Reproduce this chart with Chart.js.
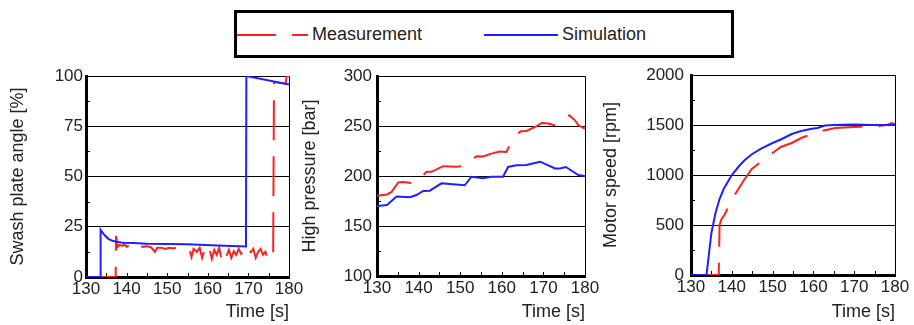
<!DOCTYPE html>
<html>
<head>
<meta charset="utf-8">
<title>Swash plate / pressure / speed</title>
<script src="https://cdn.jsdelivr.net/npm/chart.js@4.4.1/dist/chart.umd.min.js"></script>
<style>
  body { margin: 0; background: #fff; width: 914px; height: 325px; position: relative; overflow: hidden;
         font-family: "Liberation Sans", Arial, sans-serif; }
  canvas.panel { position: absolute; left: 0; top: 0; }
  #legend { position: absolute; left: 234px; top: 10px; width: 494px; height: 42px; border: 3px solid #000; background: #fff; }
  .sample { position: absolute; height: 2px; }
  .label { position: absolute; font-size: 18px; color: #222; line-height: 20px; }
</style>
</head>
<body>
<div id="legend"></div>
<div class="sample" style="left:237px; top:34px; width:39px; background:#ff2020;"></div>
<div class="sample" style="left:292px; top:34px; width:16px; background:#ff2020;"></div>
<div class="label" style="left:312px; top:24px;">Measurement</div>
<div class="sample" style="left:484px; top:34px; width:74px; background:#2020ff;"></div>
<div class="label" style="left:562px; top:24px;">Simulation</div>

<canvas class="panel" id="swashChart" width="914" height="325"></canvas>
<canvas class="panel" id="pressureChart" width="914" height="325"></canvas>
<canvas class="panel" id="speedChart" width="914" height="325"></canvas>

<script>
const FONT = '"Liberation Sans", Arial, sans-serif';
const RED = '#ff2020';
const BLUE = '#2020ff';

// shared time axis
const timeTicks = [130, 140, 150, 160, 170, 180];
const timeMinor = [130, 135, 140, 145, 150, 155, 160, 165, 170, 175, 180];

// Swash plate angle [%]
const swashTicks = [0, 25, 50, 75, 100];
const swashMinor = [12.5, 37.5, 62.5, 87.5];
const swashSimTime = [130, 133.5, 133.6, 134.5, 135.5, 136.5, 137.6, 139, 141.7, 145, 150, 154.9, 158, 162.3, 166, 169.4, 169.5, 180];
const swashSimValue = [0, 0, 23.5, 21, 19, 18, 17.5, 17.1, 16.9, 16.6, 16.4, 16.3, 16, 15.7, 15.4, 15.2, 100, 95.8];
const swashMeasTime = [130, 137.3, 137.4, 137.8, 138.3, 139, 139.5, 140, 140.7, 141.3, 142, 142.5, 143, 144, 145, 146, 147, 147.5,
    148.5, 149.5, 150.5, 151.5, 152.5, 153.5, 154.5, 155.5, 156, 156.5, 157.3, 158, 158.6, 159.2, 159.8, 160.4, 161, 161.6,
    162.2, 162.8, 163.4, 164, 164.6, 165.2, 165.8, 166.4, 167, 167.6, 168.2, 168.8, 169.4, 170, 170.6, 171.2, 171.8, 172.4,
    173, 173.6, 174.2, 174.8, 175.4, 176.1, 176.3, 179.2, 179.4, 180];
const swashMeasValue = [0, 0, 20.5, 15, 16, 15.5, 16.2, 15, 16, 15.2, 14, 15.5, 15.8, 15, 15.3, 14.8, 12.5, 14.5,
    14.6, 14, 14.5, 14.2, 14.8, 14, 14.5, 13.5, 10, 14, 12.5, 14.5, 9.5, 13.8, 11.5, 14, 9, 13.5,
    11, 14.5, 8.5, 12.5, 10.5, 13.5, 9.5, 12.8, 11, 14, 11.5, 13, 10.5, 13.5, 12.3, 14, 9.5, 12.5,
    14, 11, 12.5, 9, 12, 11, 97, 96.2, 100, 100];

// High pressure [bar]
const pressTicks = [100, 150, 200, 250, 300];
const pressMinor = [125, 175, 225, 275];
const pressSimTime = [130, 132.4, 134.7, 137.9, 139.5, 141.1, 142.7, 145.5, 147.5, 151.1, 152.7, 155.5, 157.5, 160.3, 161.5,
    163.5, 165.9, 169.2, 172.8, 174, 175.4, 178.4, 180];
const pressSimValue = [170, 171, 179.4, 178.7, 181, 185, 185.3, 192.7, 192, 190.7, 199.3, 197.7, 199.3, 199.3, 209,
    210.8, 211, 214.3, 207.5, 207.5, 209, 201, 200];
const pressMeasTime = [130, 132.4, 133.5, 135.1, 136.3, 139, 140.5, 141.9, 143.1, 145.9, 149.1, 151.5, 152.7, 153.9, 155.5,
    157.5, 159.5, 161.1, 162.3, 163.4, 164.5, 165.9, 168.4, 169.6, 171.2, 172.5, 174, 175.2, 176.2, 177.6, 178.4, 180];
const pressMeasValue = [180.2, 181.5, 184, 193.5, 194, 192.5, 198, 204.2, 204.2, 209.8, 209.2, 210.5, 215, 219.8, 219.5,
    222.4, 224.5, 224, 234, 240, 244.8, 245, 249.8, 253, 252.4, 250.7, 253, 257, 260.7, 255.7, 250.7, 247.4];

// Motor speed [rpm]
const speedTicks = [0, 500, 1000, 1500, 2000];
const speedMinor = [250, 750, 1250, 1750];
const speedSimTime = [130, 133.8, 135, 136, 137, 138, 140, 142, 143.2, 145, 147.3, 150, 152, 154.7, 157, 159.6, 161, 162.8,
    165, 169.4, 175, 180];
const speedSimValue = [0, 0, 420, 620, 760, 860, 1000, 1100, 1150, 1210, 1267, 1320, 1355, 1410, 1440, 1462, 1470, 1495,
    1500, 1505, 1500, 1500];
const speedMeasTime = [130, 136.8, 137, 137.5, 138.2, 139.6, 141, 143, 144.9, 147.7, 150, 152, 154.7, 157, 160.4, 162,
    165.3, 170, 175.9, 178, 179.2, 180];
const speedMeasValue = [0, 0, 500, 560, 600, 720, 820, 950, 1060, 1150, 1220, 1280, 1320, 1370, 1420, 1440,
    1470, 1480, 1490, 1500, 1520, 1510];

function toPoints(xs, ys) {
    return xs.map((x, i) => ({ x: x, y: ys[i] }));
}

// thin top/right frame plus small inward ticks (like the original plot style)
const framePlugin = {
    id: 'frame',
    beforeDatasetsDraw(chart, args, opts) {
        const { ctx, chartArea: a, scales } = chart;
        ctx.save();
        ctx.strokeStyle = '#000';
        ctx.lineWidth = 1;
        ctx.beginPath();
        ctx.moveTo(a.left, a.top + 0.5);
        ctx.lineTo(a.right + 0.5, a.top + 0.5);
        ctx.lineTo(a.right + 0.5, a.bottom);
        opts.xMinor.forEach(v => {
            const px = Math.round(scales.x.getPixelForValue(v)) + 0.5;
            ctx.moveTo(px, a.bottom);
            ctx.lineTo(px, a.bottom - 4);
        });
        opts.yMinor.forEach(v => {
            const py = Math.round(scales.y.getPixelForValue(v)) + 0.5;
            ctx.moveTo(a.left, py);
            ctx.lineTo(a.left + 4, py);
        });
        ctx.stroke();
        ctx.restore();
    }
};

function makePanel(id, cfg) {
    const ctx = document.getElementById(id).getContext('2d');
    return new Chart(ctx, {
        type: 'line',
        data: {
            // simulation first so it is drawn on top, as in the original
            datasets: [{
                label: 'Simulation',
                data: toPoints(cfg.simTime, cfg.simValue),
                borderColor: BLUE,
                borderWidth: 2,
                pointRadius: 0,
                tension: 0
            }, {
                label: 'Measurement',
                data: toPoints(cfg.measTime, cfg.measValue),
                borderColor: RED,
                borderWidth: 2,
                borderDash: [40, 16],
                pointRadius: 0,
                tension: 0
            }]
        },
        options: {
            responsive: false,
            animation: false,
            events: [],
            layout: { padding: cfg.padding },
            plugins: {
                legend: { display: false },
                tooltip: { enabled: false },
                frame: { xMinor: timeMinor, yMinor: cfg.yMinor }
            },
            scales: {
                x: {
                    type: 'linear',
                    min: 130,
                    max: 180,
                    afterBuildTicks: s => { s.ticks = timeTicks.map(v => ({ value: v })); },
                    afterFit: s => { s.height = cfg.xHeight; },
                    grid: { drawOnChartArea: false, drawTicks: false },
                    border: { color: '#000', width: 3 },
                    ticks: { color: '#222', font: { family: FONT, size: 17 }, padding: 2, maxRotation: 0, autoSkip: false,
                             callback: v => String(v) },
                    title: { display: true, text: 'Time [s]', align: 'end', color: '#222',
                             font: { family: FONT, size: 18 }, padding: { top: 0, bottom: 2 } }
                },
                y: {
                    min: cfg.yMin,
                    max: cfg.yMax,
                    afterBuildTicks: s => { s.ticks = cfg.yTicks.map(v => ({ value: v })); },
                    afterFit: s => { s.width = cfg.yWidth; },
                    grid: { color: '#000', lineWidth: 1, drawTicks: false },
                    border: { color: '#000', width: 3 },
                    ticks: { color: '#222', font: { family: FONT, size: 17 }, padding: cfg.tickPad,
                             callback: v => String(v) },
                    title: { display: true, text: cfg.yTitle, color: '#222',
                             font: { family: FONT, size: 18 }, padding: 0 }
                }
            }
        },
        plugins: [framePlugin]
    });
}

makePanel('swashChart', {
    simTime: swashSimTime, simValue: swashSimValue,
    measTime: swashMeasTime, measValue: swashMeasValue,
    yMin: 0, yMax: 100, yTicks: swashTicks, yMinor: swashMinor,
    yTitle: 'Swash plate angle [%]',
    padding: { left: 7, right: 625, top: 76, bottom: 0 },
    yWidth: 79, xHeight: 48, tickPad: 3
});

makePanel('pressureChart', {
    simTime: pressSimTime, simValue: pressSimValue,
    measTime: pressMeasTime, measValue: pressMeasValue,
    yMin: 100, yMax: 300, yTicks: pressTicks, yMinor: pressMinor,
    yTitle: 'High pressure [bar]',
    padding: { left: 299, right: 329, top: 76, bottom: 0 },
    yWidth: 78, xHeight: 49, tickPad: 5
});

makePanel('speedChart', {
    simTime: speedSimTime, simValue: speedSimValue,
    measTime: speedMeasTime, measValue: speedMeasValue,
    yMin: 0, yMax: 2000, yTicks: speedTicks, yMinor: speedMinor,
    yTitle: 'Motor speed [rpm]',
    padding: { left: 600, right: 19, top: 75, bottom: 0 },
    yWidth: 91, xHeight: 50, tickPad: 7
});
</script>
</body>
</html>
